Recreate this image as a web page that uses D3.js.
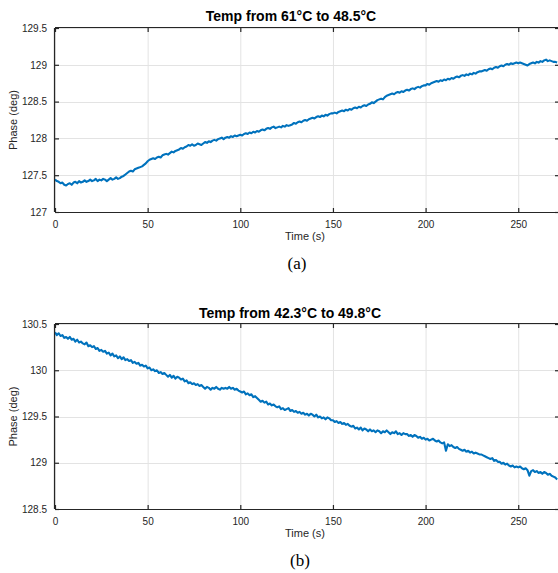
<!DOCTYPE html>
<html>
<head>
<meta charset="utf-8">
<script src="https://cdn.jsdelivr.net/npm/d3@7"></script>
<style>
  html, body { margin: 0; padding: 0; background: #fff; }
  svg { display: block; }
</style>
</head>
<body>
<svg id="chart" width="558" height="573"></svg>
<script>
// ---- Data (one sample per second) ----
const sampleStep = 1; // seconds between samples

const titleA = "Temp from 61°C to 48.5°C";
const titleB = "Temp from 42.3°C to 49.8°C";
const captionA = "(a)";
const captionB = "(b)";
const xLabel = "Time (s)";
const yLabel = "Phase (deg)";

const xTicks = [0, 50, 100, 150, 200, 250];
const yTicksA = [127, 127.5, 128, 128.5, 129, 129.5];
const yTicksB = [128.5, 129, 129.5, 130, 130.5];
const yTickLabelsA = ["127", "127.5", "128", "128.5", "129", "129.5"];
const yTickLabelsB = ["128.5", "129", "129.5", "130", "130.5"];

const phaseA = [
  127.44,127.42,127.41,127.39,127.40,127.37,127.36,127.38,127.39,127.37,
  127.40,127.41,127.39,127.42,127.40,127.41,127.43,127.41,127.42,127.44,
  127.42,127.43,127.45,127.42,127.44,127.43,127.45,127.44,127.42,127.44,
  127.46,127.44,127.45,127.47,127.45,127.46,127.48,127.49,127.51,127.53,
  127.55,127.56,127.55,127.58,127.59,127.60,127.61,127.62,127.64,127.66,
  127.69,127.71,127.72,127.73,127.72,127.74,127.75,127.74,127.77,127.78,
  127.79,127.78,127.80,127.82,127.81,127.83,127.84,127.85,127.87,127.86,
  127.88,127.89,127.91,127.90,127.92,127.90,127.91,127.93,127.92,127.91,
  127.93,127.95,127.94,127.96,127.95,127.97,127.98,127.97,127.99,128.00,
  128.01,127.99,128.01,128.02,128.01,128.03,128.02,128.04,128.03,128.04,
  128.05,128.04,128.06,128.07,128.06,128.08,128.07,128.09,128.08,128.10,
  128.09,128.11,128.12,128.11,128.13,128.14,128.13,128.15,128.16,128.14,
  128.15,128.16,128.15,128.17,128.16,128.18,128.17,128.18,128.19,128.21,
  128.20,128.22,128.23,128.22,128.24,128.25,128.24,128.26,128.27,128.28,
  128.27,128.29,128.30,128.29,128.31,128.30,128.32,128.31,128.33,128.34,
  128.34,128.35,128.34,128.36,128.37,128.38,128.37,128.39,128.38,128.40,
  128.39,128.41,128.42,128.41,128.43,128.42,128.44,128.45,128.44,128.46,
  128.47,128.49,128.48,128.50,128.52,128.53,128.54,128.53,128.56,128.58,
  128.59,128.60,128.61,128.60,128.62,128.63,128.62,128.64,128.63,128.65,
  128.66,128.65,128.67,128.68,128.67,128.69,128.70,128.69,128.71,128.72,
  128.72,128.74,128.73,128.75,128.76,128.77,128.78,128.77,128.79,128.78,
  128.80,128.79,128.81,128.80,128.82,128.81,128.83,128.84,128.83,128.85,
  128.86,128.85,128.87,128.86,128.88,128.87,128.89,128.88,128.90,128.91,
  128.91,128.92,128.93,128.92,128.94,128.95,128.94,128.96,128.97,128.96,
  128.98,128.99,128.98,129.00,129.01,129.00,129.02,129.01,129.02,129.03,
  129.02,129.03,129.02,129.01,129.00,128.99,129.01,129.02,129.03,129.02,
  129.04,129.03,129.05,129.04,129.06,129.07,129.05,129.06,129.05,129.04,
  129.04,129.03
];

const phaseB = [
  130.41,130.38,130.40,130.37,130.38,130.35,130.36,130.34,130.36,130.33,
  130.34,130.31,130.33,130.30,130.31,130.29,130.28,130.30,130.26,130.27,
  130.25,130.26,130.23,130.24,130.21,130.22,130.20,130.21,130.18,130.19,
  130.16,130.18,130.15,130.16,130.13,130.15,130.12,130.14,130.11,130.12,
  130.10,130.11,130.08,130.09,130.07,130.08,130.05,130.06,130.04,130.05,
  130.02,130.03,130.00,130.01,129.99,130.00,129.97,129.98,129.96,129.97,
  129.95,129.93,129.95,129.92,129.94,129.91,129.93,129.92,129.90,129.91,
  129.88,129.89,129.86,129.87,129.85,129.86,129.84,129.85,129.83,129.84,
  129.82,129.80,129.82,129.81,129.79,129.81,129.80,129.82,129.80,129.79,
  129.81,129.80,129.81,129.80,129.82,129.80,129.81,129.79,129.80,129.78,
  129.77,129.76,129.77,129.74,129.75,129.73,129.74,129.71,129.72,129.70,
  129.68,129.66,129.67,129.65,129.66,129.63,129.64,129.62,129.63,129.61,
  129.60,129.61,129.58,129.59,129.57,129.58,129.59,129.56,129.57,129.55,
  129.56,129.54,129.55,129.53,129.54,129.52,129.53,129.51,129.53,129.52,
  129.50,129.52,129.49,129.50,129.48,129.49,129.47,129.49,129.48,129.46,
  129.46,129.44,129.45,129.43,129.44,129.42,129.43,129.41,129.42,129.40,
  129.39,129.40,129.37,129.38,129.36,129.38,129.35,129.37,129.36,129.34,
  129.36,129.34,129.35,129.33,129.35,129.34,129.32,129.34,129.33,129.35,
  129.33,129.31,129.33,129.32,129.34,129.31,129.32,129.30,129.32,129.31,
  129.31,129.29,129.30,129.28,129.30,129.29,129.27,129.28,129.26,129.27,
  129.25,129.26,129.24,129.25,129.26,129.24,129.23,129.24,129.22,129.21,
  129.22,129.13,129.20,129.18,129.19,129.17,129.16,129.17,129.15,129.14,
  129.13,129.14,129.12,129.13,129.11,129.12,129.10,129.11,129.10,129.09,
  129.09,129.08,129.07,129.06,129.05,129.04,129.05,129.02,129.03,129.01,
  129.01,128.99,129.00,128.98,128.99,128.97,128.96,128.97,128.95,128.96,
  128.95,128.96,128.94,128.93,128.94,128.92,128.86,128.91,128.92,128.90,
  128.91,128.89,128.90,128.88,128.90,128.89,128.87,128.88,128.86,128.85,
  128.84,128.82
];

const xDomain = [0, 272];
const yDomainA = [127, 129.5];
const yDomainB = [128.5, 130.5];

// ---- Drawing ----
const svg = d3.select("#chart");
const lineColor = "#0072BD";
const axisColor = "#262626";
const gridColor = "#e3e3e3";
const fontSans = "'Liberation Sans', Arial, Helvetica, sans-serif";

function drawPanel(cfg) {
  const { top, bottom, left, right, yDomain, yTicks, yTickLabels, values, title, titleY, titleX, caption, captionY, captionX } = cfg;
  const x = d3.scaleLinear().domain(xDomain).range([left, right]);
  const y = d3.scaleLinear().domain(yDomain).range([bottom, top]);
  const g = svg.append("g");

  // grid
  g.append("g").selectAll("line.vg").data(xTicks).join("line")
    .attr("x1", d => x(d) + 0.5).attr("x2", d => x(d) + 0.5)
    .attr("y1", top).attr("y2", bottom)
    .attr("stroke", gridColor).attr("stroke-width", 1);
  g.append("g").selectAll("line.hg").data(yTicks).join("line")
    .attr("x1", left).attr("x2", right)
    .attr("y1", d => Math.round(y(d)) + 0.5).attr("y2", d => Math.round(y(d)) + 0.5)
    .attr("stroke", gridColor).attr("stroke-width", 1);

  // data line
  const pts = values.map((v, i) => [i * sampleStep, v]);
  const clipId = "clip" + Math.round(top);
  svg.append("clipPath").attr("id", clipId).append("rect")
    .attr("x", left).attr("y", top).attr("width", right - left).attr("height", bottom - top);
  g.append("path")
    .datum(pts)
    .attr("clip-path", `url(#${clipId})`)
    .attr("fill", "none")
    .attr("stroke", lineColor)
    .attr("stroke-width", 2.1)
    .attr("stroke-linejoin", "round")
    .attr("d", d3.line().x(d => x(d[0])).y(d => y(d[1])));

  // axes (ticks inward, box)
  const tickLen = 4;
  const xAxisB = d3.axisBottom(x).tickValues(xTicks).tickSize(-tickLen).tickPadding(tickLen + 5).tickFormat(d3.format("d"));
  const xAx = g.append("g").attr("transform", `translate(0,${bottom})`).call(xAxisB);
  const xAxisT = d3.axisTop(x).tickValues(xTicks).tickSize(-tickLen).tickFormat("");
  const xAxT = g.append("g").attr("transform", `translate(0,${top})`).call(xAxisT);
  const yAxisL = d3.axisLeft(y).tickValues(yTicks).tickSize(-tickLen).tickPadding(tickLen + 4)
    .tickFormat((d, i) => yTickLabels[i]);
  const yAx = g.append("g").attr("transform", `translate(${left},0)`).call(yAxisL);
  const yAxisR = d3.axisRight(y).tickValues(yTicks).tickSize(-tickLen).tickFormat("");
  const yAxR = g.append("g").attr("transform", `translate(${right},0)`).call(yAxisR);

  [xAx, xAxT, yAx, yAxR].forEach(a => {
    a.select(".domain").attr("stroke", axisColor).attr("stroke-width", 1.2);
    a.selectAll(".tick line").attr("stroke", axisColor).attr("stroke-width", 1.2);
    a.selectAll(".tick text").attr("fill", axisColor)
      .style("font-family", fontSans).style("font-size", "10px");
  });
  xAx.select(".domain").attr("d", `M${left},0.5H${right}`);
  xAxT.select(".domain").attr("d", `M${left},-0.5H${right}`);
  yAx.select(".domain").attr("d", `M-0.5,${top}V${bottom}`);
  yAxR.select(".domain").attr("d", `M0.5,${top}V${bottom}`);

  // labels
  g.append("text").text(xLabel)
    .attr("x", 305).attr("y", bottom + 28)
    .attr("text-anchor", "middle")
    .attr("fill", axisColor)
    .style("font-family", fontSans).style("font-size", "11px");
  g.append("text").text(yLabel)
    .attr("transform", `translate(17,${(top + bottom) / 2}) rotate(-90)`)
    .attr("text-anchor", "middle")
    .attr("fill", axisColor)
    .style("font-family", fontSans).style("font-size", "11px");
  g.append("text").text(title)
    .attr("x", titleX).attr("y", titleY)
    .attr("text-anchor", "middle")
    .attr("fill", "#000")
    .style("font-family", fontSans).style("font-size", "14px").style("font-weight", "bold");
  g.append("text").text(caption)
    .attr("x", captionX).attr("y", captionY)
    .attr("text-anchor", "middle")
    .attr("fill", "#000")
    .style("font-family", "'Liberation Serif', 'Times New Roman', serif").style("font-size", "17px");
}

drawPanel({
  top: 28, bottom: 212, left: 55, right: 559,
  yDomain: yDomainA, yTicks: yTicksA, yTickLabels: yTickLabelsA,
  values: phaseA, title: titleA, titleX: 291, titleY: 21,
  caption: captionA, captionX: 297, captionY: 269
});
drawPanel({
  top: 324, bottom: 509, left: 55, right: 559,
  yDomain: yDomainB, yTicks: yTicksB, yTickLabels: yTickLabelsB,
  values: phaseB, title: titleB, titleX: 290, titleY: 318,
  caption: captionB, captionX: 300, captionY: 566
});
</script>
</body>
</html>
